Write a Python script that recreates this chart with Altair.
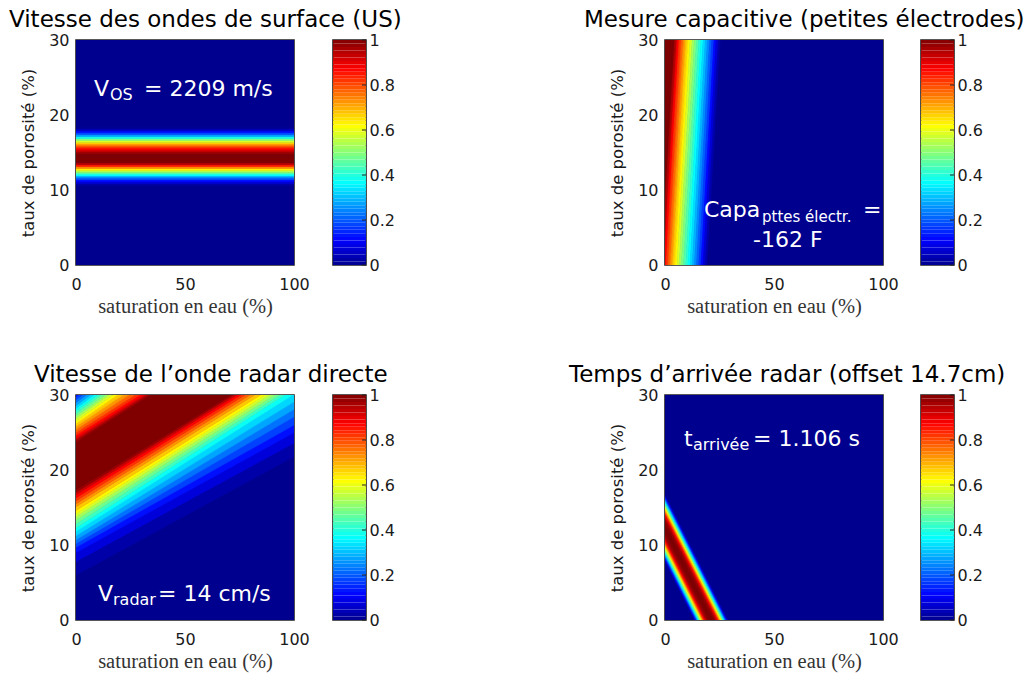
import altair as alt
import pandas as pd

# ---------------- colour map (MATLAB "jet") ----------------
JET_DOMAIN = [0.0, 0.111, 0.365, 0.619, 0.873, 1.0]
JET_RANGE = ["#00008f", "#0000ff", "#00ffff", "#ffff00", "#ff0000", "#800000"]

# ---------------- axes ----------------
x_ticks = [0, 50, 100]
y_ticks = [0, 10, 20, 30]
cbar_ticks = [0, 0.2, 0.4, 0.6, 0.8, 1]
x_title = "saturation en eau (%)"
y_title = "taux de porosité (%)"

titles = [
    "Vitesse des ondes de surface (US)",
    "Mesure capacitive (petites électrodes)",
    "Vitesse de l’onde radar directe",
    "Temps d’arrivée radar (offset 14.7cm)",
]

# ---------------- panel 1 : value vs porosity (constant along saturation) ----------------
p1_porosity = [10.50, 10.75, 11.00, 11.25, 11.50, 11.75, 12.00, 12.25, 12.50, 12.75,
               13.00, 13.25, 13.50, 13.75, 14.00, 14.25, 14.50, 14.75, 15.00, 15.25,
               15.50, 15.75, 16.00, 16.25, 16.50, 16.75, 17.00, 17.25, 17.50, 17.75,
               18.00, 18.25, 18.50]
p1_value = [0.00, 0.02, 0.07, 0.12, 0.19, 0.26, 0.36, 0.45, 0.54, 0.63,
            0.73, 0.84, 0.94, 1.00, 1.00, 1.00, 1.00, 1.00, 0.97, 0.92,
            0.87, 0.81, 0.75, 0.67, 0.58, 0.49, 0.39, 0.28, 0.20, 0.13,
            0.06, 0.01, 0.00]

# ---------------- panel 2 : value vs saturation (read at porosity 15) ----------------
p2_saturation = [-3, -2, -1, 0, 1, 2, 3, 4, 5, 6, 7, 8, 9, 10, 11, 12, 13,
                 14, 15, 16, 17, 18, 19, 20, 21, 22, 23]
p2_value = [1.00, 1.00, 1.00, 1.00, 1.00, 0.95, 0.88, 0.82, 0.77, 0.72, 0.67, 0.63,
            0.58, 0.53, 0.49, 0.45, 0.41, 0.37, 0.33, 0.29, 0.25, 0.21, 0.17, 0.12,
            0.07, 0.03, 0.00]
p2_lean = 6.0  # saturation shift of the band between porosity 0 and 30

# ---------------- panel 3 : oblique band, contour lines read at saturation 0 and 100 ----------------
p3_levels = [0.00, 0.05, 0.10, 0.15, 0.20, 0.25, 0.30, 0.35, 0.40, 0.45, 0.50,
             0.55, 0.60, 0.65, 0.70, 0.75, 0.80, 0.85, 0.90, 0.95, 1.00]
p3_lower_at0 = [6.0, 7.8, 9.0, 9.7, 10.2, 10.7, 11.25, 11.8, 12.3, 12.85, 13.35,
                13.8, 14.2, 14.6, 15.1, 15.5, 15.9, 16.3, 16.7, 17.05, 17.4]
p3_lower_at100 = [21.8, 23.6, 25.0, 26.0, 27.1, 28.1, 29.1, 30.1, 30.8, 31.2, 31.6,
                  32.0, 32.4, 32.8, 33.3, 33.7, 34.1, 34.45, 34.75, 35.0, 35.2]
p3_upper_at0 = [31.5, 30.8, 30.3, 29.8, 29.4, 29.0, 28.6, 28.25, 27.9, 27.55, 27.2,
                26.9, 26.55, 26.2, 25.8, 25.4, 25.0, 24.65, 24.3, 24.0, 23.7]
p3_upper_at100 = [53.0, 52.3, 51.8, 51.3, 50.9, 50.5, 50.1, 49.8, 49.3, 48.8, 48.2,
                  47.7, 47.1, 46.3, 45.3, 44.4, 43.6, 43.0, 42.6, 42.4, 42.2]

# ---------------- panel 4 : narrow band, profile read along porosity 0 ----------------
p4_saturation = [13.25, 13.75, 14.25, 14.75, 15.25, 15.75, 16.25, 16.75, 17.25, 17.75,
                 18.25, 18.75, 19.25, 19.75, 20.25, 20.75, 21.25, 21.75, 22.25, 22.75,
                 23.25, 23.75, 24.25, 24.75, 25.25, 25.75, 26.25, 26.75, 27.25, 27.75,
                 28.25, 28.75, 29.25]
p4_value = [0.00, 0.05, 0.13, 0.24, 0.33, 0.43, 0.52, 0.62, 0.71, 0.80,
            0.87, 0.92, 0.96, 0.98, 0.99, 1.00, 1.00, 1.00, 0.99, 0.98,
            0.96, 0.92, 0.87, 0.80, 0.71, 0.62, 0.52, 0.43, 0.33, 0.24,
            0.13, 0.05, 0.00]
p4_run = 51.6  # band moves this many saturation units to the left per 30 % porosity

# ---------------- annotations ----------------
ann1 = ["V", "OS", "= 2209 m/s"]
ann2 = ["Capa", "pttes électr.", "=", "-162 F"]
ann3 = ["V", "radar", "= 14 cm/s"]
ann4 = ["t", "arrivée", "= 1.106 s"]

# ============================================================
PW, PH = 218, 225
CBW = 33
SANS = "DejaVu Sans"
SERIF = "Liberation Serif"

XS = alt.Scale(domain=[0, 100], nice=False, zero=False)
YS = alt.Scale(domain=[0, 30], nice=False, zero=False)
CBS = alt.Scale(domain=[0, 1], nice=False, zero=False)
CS = alt.Scale(domain=JET_DOMAIN, range=JET_RANGE, interpolate="rgb")

ONE = pd.DataFrame({"o": [0]})

X_AXIS = alt.Axis(values=x_ticks, title=x_title, grid=False, ticks=False, domain=False,
                  labelFont=SANS, labelFontSize=16, labelColor="#1a1a1a", labelPadding=11,
                  labelFlush=False, titleFont=SERIF, titleFontSize=20.5,
                  titleFontWeight="normal", titleColor="#333333", titlePadding=4)
Y_AXIS = alt.Axis(values=y_ticks, title=y_title, grid=False, ticks=False, domain=False,
                  labelFont=SANS, labelFontSize=16, labelColor="#1a1a1a", labelPadding=7,
                  titleFont=SANS, titleFontSize=16.5, titleFontWeight="normal",
                  titleColor="#1a1a1a", titlePadding=12)
CB_AXIS = alt.Axis(orient="right", values=cbar_ticks, format="~g", grid=False,
                   ticks=False, domain=False, labelFont=SANS, labelFontSize=16,
                   labelColor="#1a1a1a", labelPadding=3, title="")


def background():
    df = pd.DataFrame({"s": [0], "s2": [100], "p": [0], "p2": [30], "v": [0.0]})
    return alt.Chart(df).mark_rect().encode(
        x=alt.X("s:Q", scale=XS, axis=X_AXIS),
        x2="s2:Q",
        y=alt.Y("p:Q", scale=YS, axis=Y_AXIS),
        y2="p2:Q",
        color=alt.Color("v:Q", scale=CS, legend=None),
    )


def stripes_h(df):
    return alt.Chart(df).mark_area(clip=True, strokeWidth=0.7).encode(
        x=alt.X("s:Q", scale=XS, axis=X_AXIS),
        y=alt.Y("p:Q", scale=YS, axis=Y_AXIS),
        y2="p2:Q",
        detail="k:N",
        color=alt.Color("v:Q", scale=CS, legend=None),
        stroke=alt.Stroke("v:Q", scale=CS, legend=None),
    )


def stripes_v(df):
    return alt.Chart(df).mark_area(orient="horizontal", clip=True, strokeWidth=0.7).encode(
        y=alt.Y("p:Q", scale=YS, axis=Y_AXIS),
        x=alt.X("s:Q", scale=XS, axis=X_AXIS),
        x2="s2:Q",
        detail="k:N",
        color=alt.Color("v:Q", scale=CS, legend=None),
        stroke=alt.Stroke("v:Q", scale=CS, legend=None),
    )


def label(text, px, py, size=22):
    return alt.Chart(ONE).mark_text(
        text=text, align="left", baseline="alphabetic", font=SANS,
        fontSize=size, color="white"
    ).encode(x=alt.value(px), y=alt.value(py))


def title(text, dx):
    return alt.TitleParams(text=text, anchor="start", frame="group", dx=dx, dy=24, offset=6,
                           baseline="alphabetic", font=SANS, fontSize=23,
                           fontWeight="normal", color="black")


# ---- build stripe tables ----
rows = []
for k, (p, v) in enumerate(zip(p1_porosity, p1_value)):
    for s in (0, 100):
        rows.append({"k": k, "s": s, "p": p - 0.125, "p2": p + 0.125, "v": v})
df1 = pd.DataFrame(rows)

rows = []
for k, (d, v) in enumerate(zip(p2_saturation, p2_value)):
    for p, shift in ((0, -p2_lean / 2), (30, p2_lean / 2)):
        rows.append({"k": k, "p": p, "s": d - 0.5 + shift, "s2": d + 0.5 + shift, "v": v})
df2 = pd.DataFrame(rows)

lines = [(v, a, b) for v, a, b in zip(p3_levels, p3_lower_at0, p3_lower_at100)]
lines += [(v, a, b) for v, a, b in zip(reversed(p3_levels), reversed(p3_upper_at0),
                                         reversed(p3_upper_at100))]
rows = []
for k in range(len(lines) - 1):
    (va, a0, a1), (vb, b0, b1) = lines[k], lines[k + 1]
    rows.append({"k": k, "s": 0, "p": a0, "p2": b0, "v": (va + vb) / 2})
    rows.append({"k": k, "s": 100, "p": a1, "p2": b1, "v": (va + vb) / 2})
df3 = pd.DataFrame(rows)

rows = []
for k, (xb, v) in enumerate(zip(p4_saturation, p4_value)):
    for p, shift in ((0, 0.0), (30, -p4_run)):
        rows.append({"k": k, "p": p, "s": xb - 0.25 + shift, "s2": xb + 0.25 + shift, "v": v})
df4 = pd.DataFrame(rows)

# ---- panels ----
panel1 = alt.layer(
    background(), stripes_h(df1),
    label(ann1[0], 18, 56), label(ann1[1], 34, 60, 16), label(ann1[2], 68, 56),
).properties(width=PW, height=PH, title=title(titles[0], -67))

panel2 = alt.layer(
    background(), stripes_v(df2),
    label(ann2[0], 39, 177), label(ann2[1], 97, 182, 15), label(ann2[2], 198, 177),
    label(ann2[3], 88, 207),
).properties(width=PW, height=PH, title=title(titles[1], -81))

panel3 = alt.layer(
    background(), stripes_h(df3),
    label(ann3[0], 22, 206), label(ann3[1], 37, 210, 16), label(ann3[2], 82, 206),
).properties(width=PW, height=PH, title=title(titles[2], -42))

panel4 = alt.layer(
    background(), stripes_v(df4),
    label(ann4[0], 19, 51), label(ann4[1], 28, 55, 16), label(ann4[2], 88, 51),
).properties(width=PW, height=PH, title=title(titles[3], -96))


# ---- colour bar ----
N = 64
cb_df = pd.DataFrame({"lo": [i / N for i in range(N)],
                      "hi": [(i + 1) / N for i in range(N)],
                      "v": [(i + 0.5) / N for i in range(N)]})
cb_ticks_df = pd.DataFrame({"lo": cbar_ticks})


def colorbar():
    bar = alt.Chart(cb_df).mark_rect().encode(
        y=alt.Y("lo:Q", scale=CBS, axis=CB_AXIS),
        y2="hi:Q",
        color=alt.Color("v:Q", scale=CS, legend=None),
    )
    ticks = alt.Chart(cb_ticks_df).mark_rule(color="#222", strokeWidth=1).encode(
        y=alt.Y("lo:Q", scale=CBS, axis=CB_AXIS), x=alt.value(CBW - 4), x2=alt.value(CBW))
    return alt.layer(bar, ticks).properties(width=CBW, height=PH)


def spacer(w):
    return alt.Chart(ONE).mark_point(opacity=0).encode(
        x=alt.value(0), y=alt.value(0)
    ).properties(width=w, height=PH, view=alt.ViewBackground(stroke=None))


chart = alt.concat(
    panel1, spacer(39), colorbar(), spacer(299), panel2, spacer(38), colorbar(),
    panel3, spacer(39), colorbar(), spacer(299), panel4, spacer(38), colorbar(),
    columns=7, spacing={"row": 130, "column": 0}, bounds="flush",
).properties(
    padding={"left": 0, "top": 0, "right": 0, "bottom": 0}, background="white"
).configure_view(stroke="#222222", strokeWidth=1.6)

chart.save("out.html", embed_options={"renderer": "svg", "actions": False})
